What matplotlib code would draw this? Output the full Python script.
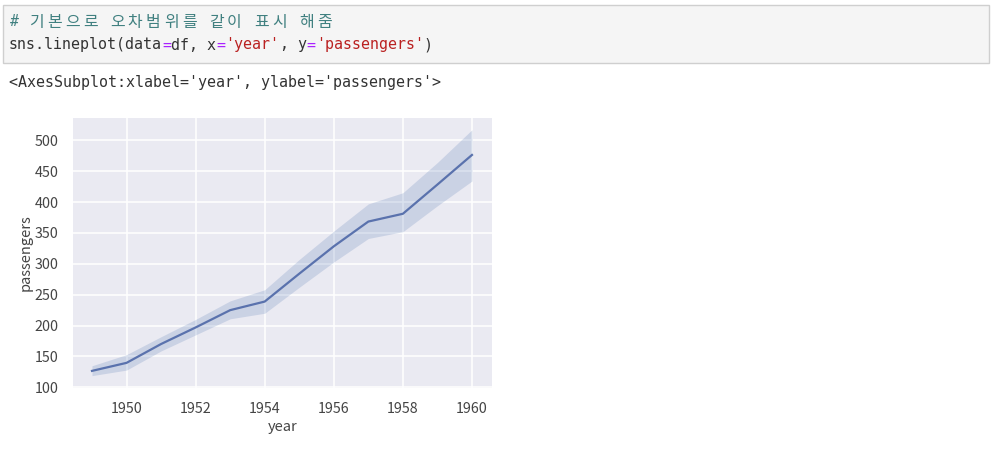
import numpy as np
import matplotlib as mpl
import matplotlib.pyplot as plt
from matplotlib.patches import Rectangle

# yearly mean of passengers and the 95% band around it
years = [1949, 1950, 1951, 1952, 1953, 1954, 1955, 1956, 1957, 1958, 1959, 1960]
passengers = [126.7, 139.7, 170.2, 197.0, 225.0, 238.9, 284.0, 328.3, 368.4, 381.0, 428.3, 476.2]
ci_low = [119, 128, 159, 185, 211, 220, 262, 303, 341, 352, 394, 434]
ci_high = [135, 153, 182, 210, 240, 258, 307, 353, 397, 415, 464, 517]
yticks = [100, 150, 200, 250, 300, 350, 400, 450, 500]
xticks = [1950, 1952, 1954, 1956, 1958, 1960]

W, H = 996, 453
fig = plt.figure(figsize=(W / 100, H / 100), dpi=100)
fig.patch.set_facecolor('white')

def fx(px):
    return px / W

def fy(py):
    return 1 - py / H

mono = ['DejaVu Sans Mono', 'Noto Sans CJK KR']
fs = 10.8
col = 9.02  # width of one monospace column in pixels

# notebook code cell
fig.patches.append(Rectangle((fx(3), fy(63)), fx(986), 58 / H, transform=fig.transFigure,
                             facecolor='#f5f5f5', edgecolor='#cfcfcf', lw=1))

# comment line: hangul takes two columns in the notebook's coding font
comment = '# 기본으로 오차범위를 같이 표시 해줌'
cx = 9
for ch in comment:
    wide = ord(ch) > 0x1100
    if ch != ' ':
        fig.text(fx(cx + (col if wide else col / 2)), fy(22), ch, family=mono, style='italic',
                 color='#408080', fontsize=fs if not wide else 11.5, va='center', ha='center')
    cx += col * (2 if wide else 1)

# code line with simple syntax colouring
parts = [('sns.lineplot(data', '#333333'), ('=', '#AA22FF'), ('df, x', '#333333'),
         ('=', '#AA22FF'), ("'year'", '#BA2121'), (', y', '#333333'), ('=', '#AA22FF'),
         ("'passengers'", '#BA2121'), (')', '#333333')]
cx = 9
for s, c in parts:
    fig.text(fx(cx), fy(45), s, family=mono, color=c, fontsize=fs, va='center')
    cx += col * len(s)

fig.text(fx(9), fy(82), "<AxesSubplot:xlabel='year', ylabel='passengers'>", family=mono,
         color='#333333', fontsize=fs, va='center')

# the seaborn-style plot
ax = fig.add_axes([fx(73), fy(388), fx(419), 270 / H])
ax.set_facecolor('#EAEAF2')
for sp in ax.spines.values():
    sp.set_visible(False)
ax.grid(True, color='white', lw=1.1)
ax.set_axisbelow(True)

ax.fill_between(years, ci_low, ci_high, color='#4C72B0', alpha=0.2, lw=0)
ax.plot(years, passengers, color='#5a72ad', lw=1.6)

ax.set_xlim(1948.45, 1960.58)
ax.set_ylim(99, 536)
ax.set_xticks(xticks)
ax.set_yticks(yticks)
ax.tick_params(length=0, labelsize=10.3, labelcolor='#444444')
ax.tick_params(axis='x', pad=10)
ax.tick_params(axis='y', pad=10.5)
for lab in ax.get_xticklabels() + ax.get_yticklabels():
    lab.set_family('Noto Sans CJK KR')
ax.set_xlabel('year', fontsize=10.5, color='#444444', family='Noto Sans CJK KR', labelpad=3)
ax.set_ylabel('passengers', fontsize=10.5, color='#444444', family='Noto Sans CJK KR', labelpad=1.5)

plt.savefig('out.png', dpi=100)
